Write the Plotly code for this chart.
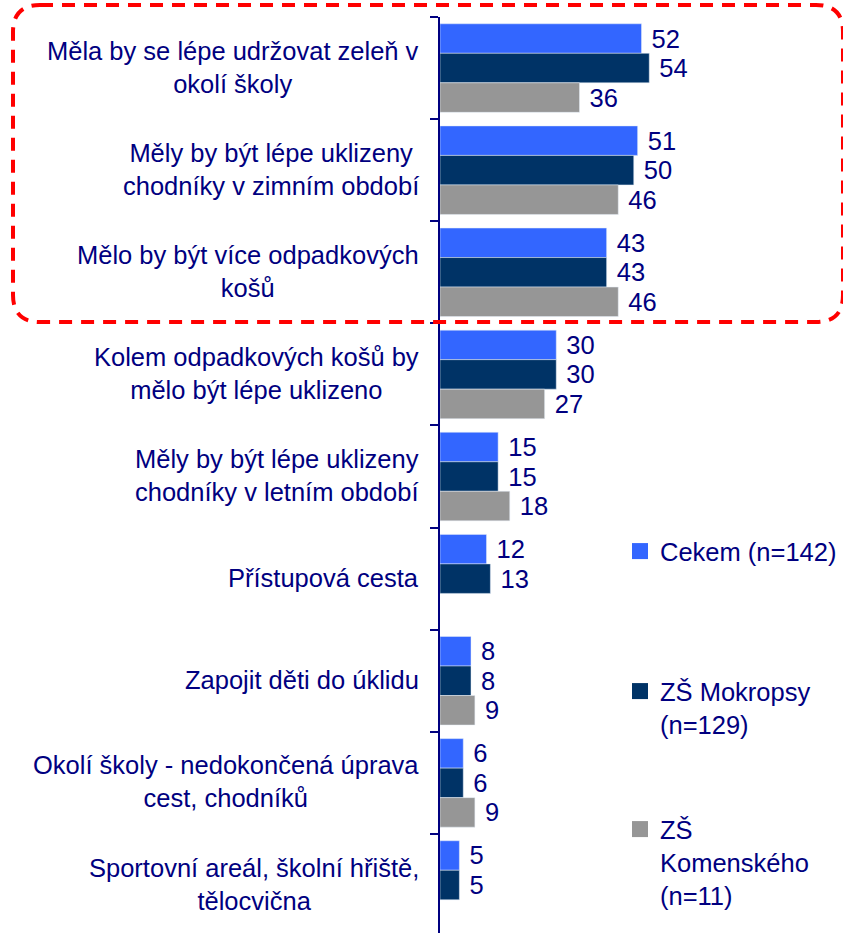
import plotly.graph_objects as go

# kategorie (shora dolů)
categories = [
    "Měla by se lépe udržovat zeleň v<br>okolí školy",
    "Měly by být lépe uklizeny<br>chodníky v zimním období",
    "Mělo by být více odpadkových<br>košů",
    "Kolem odpadkových košů by<br>mělo být lépe uklizeno",
    "Měly by být lépe uklizeny<br>chodníky v letním období",
    "Přístupová cesta",
    "Zapojit děti do úklidu",
    "Okolí školy - nedokončená úprava<br>cest, chodníků",
    "Sportovní areál, školní hřiště,<br>tělocvična",
]
cekem = [52, 51, 43, 30, 15, 12, 8, 6, 5]
mokropsy = [54, 50, 43, 30, 15, 13, 8, 6, 5]
komenskeho = [36, 46, 46, 27, 18, None, 9, 9, None]

series_names = ["Cekem (n=142)", "ZŠ Mokropsy<br>(n=129)", "ZŠ<br>Komenského<br>(n=11)"]
series_colors = ["#3366FF", "#003366", "#969696"]

NAVY = "#000080"
FONT = "Liberation Sans, Arial, sans-serif"
FS = 25.5

W, H = 843, 933
ML, MR, MT, MB = 440, 0, 17, 0
PW, PH = W - ML - MR, H - MT - MB

keys = [c.replace("<br>", " ") for c in categories]


def px_x(p):
    return (p - ML) / PW


def px_y(p):
    return 1 - (p - MT) / PH


fig = go.Figure()

for name, vals, col, lg in zip(series_names, [cekem, mokropsy, komenskeho], series_colors,
                               ["legend", "legend2", "legend3"]):
    fig.add_trace(go.Bar(
        y=keys, x=vals, orientation="h", marker_color=col,
        text=[" %d" % v if v is not None else "" for v in vals],
        textposition="outside", constraintext="none", cliponaxis=False,
        textfont=dict(family=FONT, size=FS, color=NAVY),
        showlegend=False, hoverinfo="skip",
    ))
    # legenda - čtvercové značky
    fig.add_trace(go.Scatter(
        x=[None], y=[None], mode="markers", name=name, legend=lg,
        marker=dict(symbol="square", size=16, color=col),
    ))

# popisky kategorií (centrované bloky)
for k, c in zip(keys, categories):
    fig.add_annotation(
        x=px_x(421), xref="paper", y=k, yref="y", text=c, showarrow=False,
        xanchor="right", align="center", yshift=1,
        font=dict(family=FONT, size=FS, color=NAVY),
    )

# červený čárkovaný rámeček kolem prvních tří položek
L, R, T, B, r = 13, 843, 5, 322, 27
path = (
    f"M {px_x(L + r)},{px_y(T)} L {px_x(R - r)},{px_y(T)} "
    f"Q {px_x(R)},{px_y(T)} {px_x(R)},{px_y(T + r)} "
    f"L {px_x(R)},{px_y(B - r)} "
    f"Q {px_x(R)},{px_y(B)} {px_x(R - r)},{px_y(B)} "
    f"L {px_x(L + r)},{px_y(B)} "
    f"Q {px_x(L)},{px_y(B)} {px_x(L)},{px_y(B - r)} "
    f"L {px_x(L)},{px_y(T + r)} "
    f"Q {px_x(L)},{px_y(T)} {px_x(L + r)},{px_y(T)} Z"
)
fig.add_shape(type="path", path=path, xref="paper", yref="paper",
              line=dict(color="#FF0000", width=4, dash="13px,9px"))

leg_common = dict(
    xanchor="left", yanchor="top", bgcolor="rgba(0,0,0,0)", borderwidth=0,
    font=dict(family=FONT, size=FS, color=NAVY), valign="top",
    itemclick=False, itemdoubleclick=False,
)

fig.update_layout(
    width=W, height=H,
    margin=dict(l=ML, r=MR, t=MT, b=MB),
    paper_bgcolor="white", plot_bgcolor="white",
    barmode="group", bargap=0.133, bargroupgap=0,
    font=dict(family=FONT, size=FS, color=NAVY),
    legend=dict(x=px_x(620), y=px_y(528), **leg_common),
    legend2=dict(x=px_x(620), y=px_y(668), **leg_common),
    legend3=dict(x=px_x(620), y=px_y(806), **leg_common),
    xaxis=dict(range=[0, 104], visible=False, fixedrange=True),
    yaxis=dict(
        type="category", categoryorder="array", categoryarray=keys,
        range=[8.47, -0.5], showticklabels=False,
        showline=True, linecolor=NAVY, linewidth=2,
        ticks="outside", tickson="boundaries", ticklen=8, tickwidth=2, tickcolor=NAVY,
        showgrid=False, zeroline=False, fixedrange=True,
    ),
)

# bez výchozího okraje stránky
fig.write_html("out.html", config={"displayModeBar": False},
               post_script="document.body.style.margin='0';")
